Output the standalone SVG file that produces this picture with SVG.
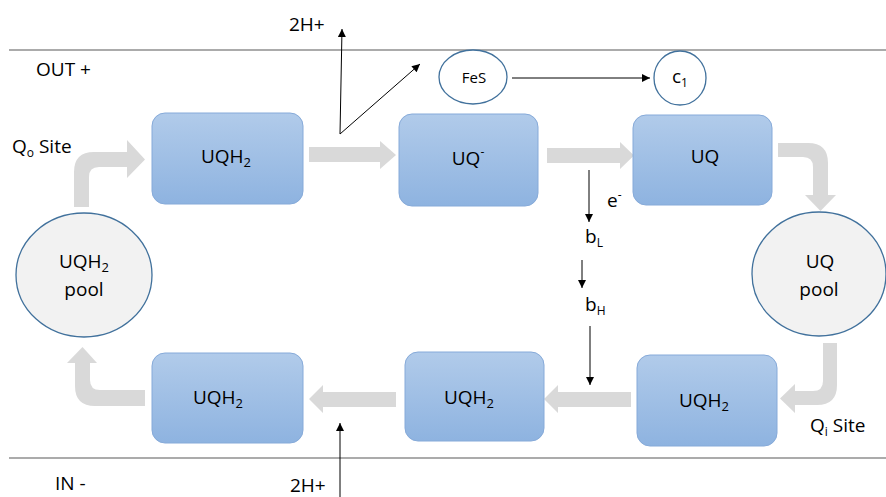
<svg xmlns="http://www.w3.org/2000/svg" width="886" height="497" viewBox="0 0 886 497">
<defs>
<linearGradient id="boxg" x1="0" y1="0" x2="0" y2="1">
<stop offset="0" stop-color="#b1cbea"/>
<stop offset="1" stop-color="#8eb3e0"/>
</linearGradient>
<marker id="ah" viewBox="0 0 10 10" refX="10" refY="5" markerWidth="9" markerHeight="8" markerUnits="userSpaceOnUse" orient="auto">
<path d="M0,0 L10,5 L0,10 Z" fill="#000"/>
</marker>
<style>
text{font-family:"Open Sans","Liberation Sans",sans-serif;fill:#000}
.lbl{font-size:19px}
.sm{font-size:15px}
.box{fill:url(#boxg);stroke:#86aad9;stroke-width:1}
.pool{fill:#f2f2f2;stroke:#41719c;stroke-width:1.3}
.cof{fill:#fff;stroke:#41719c;stroke-width:1.3}
.flow{fill:#d9d9d9;stroke:none}
.thin{stroke:#000;stroke-width:1;fill:none;marker-end:url(#ah)}
.mem{stroke:#595959;stroke-width:1.2}
</style>
</defs>
<rect width="886" height="497" fill="#fff"/>
<g id="membranes">
<line class="mem" x1="9" y1="50" x2="886" y2="50"/>
<line class="mem" x1="9" y1="458" x2="886" y2="458"/>
<text class="lbl" x="36" y="76">OUT +</text>
<text class="lbl" x="55" y="490">IN -</text>
<text class="lbl" x="12" y="153">Q<tspan font-size="12" dy="4">o</tspan><tspan dy="-4"> Site</tspan></text>
<text class="lbl" x="810" y="432">Q<tspan font-size="12" dy="4">i</tspan><tspan dy="-4"> Site</tspan></text>
</g>
<g id="connectors">
<path class="flow" d="M74,207 V172 Q74,152 94,152 H127 V140 L145,159.5 L127,178 V167 H99 Q89,167 89,177 V207 Z"/>
<path class="flow" d="M309,147 H380 V141 L396,155 L380,169 V162 H309 Z"/>
<path class="flow" d="M547,148 H620 V142 L634,155.5 L620,169 V163 H547 Z"/>
<path class="flow" d="M778,143 H808 Q828,143 828,163 V195 H836 L820.5,211 L805,195 H813 V167 Q813,157 803,157 H778 Z"/>
<path class="flow" d="M823,343 V381 Q823,391 813,391 H795 V384 L780,398.5 L795,413 V405 H817 Q837,405 837,385 V343 Z"/>
<path class="flow" d="M631,392 H558 V385 L544,399 L558,413 V407 H631 Z"/>
<path class="flow" d="M396,392 H323 V385 L309,399 L323,413 V407 H396 Z"/>
<path class="flow" d="M145,390 H100 Q90,390 90,380 V363 H97 L82.5,347 L67,363 H75 V386 Q75,406 95,406 H145 Z"/>
<line class="thin" x1="340" y1="134" x2="342" y2="29"/>
<line class="thin" x1="340" y1="134" x2="420" y2="64"/>
<line class="thin" x1="512" y1="78" x2="650" y2="78"/>
<line class="thin" x1="589" y1="170" x2="589" y2="222"/>
<line class="thin" x1="582" y1="260" x2="582" y2="288"/>
<line class="thin" x1="590" y1="326" x2="590" y2="385"/>
<line class="thin" x1="340" y1="497" x2="340" y2="423"/>
<text class="lbl" x="289" y="31">2H+</text>
<text class="lbl" x="290" y="492">2H+</text>
<text class="lbl" x="607" y="207">e<tspan font-size="12" dy="-8">-</tspan></text>
<text class="lbl" x="585" y="243">b<tspan font-size="12" dy="4">L</tspan></text>
<text class="lbl" x="585" y="311">b<tspan font-size="12" dy="4">H</tspan></text>
</g>
<g id="uqh2-pool">
<ellipse class="pool" cx="84" cy="275" rx="68" ry="62"/>
<text class="lbl" x="84" y="268" text-anchor="middle">UQH<tspan font-size="13" dy="4">2</tspan></text>
<text class="lbl" x="84" y="296" text-anchor="middle">pool</text>
</g>
<g id="uqh2-qo">
<rect class="box" x="152" y="113" width="151" height="91" rx="13"/>
<text class="lbl" x="226" y="163" text-anchor="middle">UQH<tspan font-size="13" dy="4">2</tspan></text>
</g>
<g id="uq-minus">
<rect class="box" x="399" y="114" width="139" height="92" rx="13"/>
<text class="lbl" x="468" y="165" text-anchor="middle">UQ<tspan font-size="12" dy="-9">-</tspan></text>
</g>
<g id="uq">
<rect class="box" x="633" y="115" width="139" height="90" rx="13"/>
<text class="lbl" x="705" y="163" text-anchor="middle">UQ</text>
</g>
<g id="fes">
<ellipse class="cof" cx="473" cy="77" rx="34" ry="27"/>
<text class="sm" x="474" y="83" text-anchor="middle">FeS</text>
</g>
<g id="c1">
<ellipse class="cof" cx="680" cy="78" rx="26" ry="27"/>
<text class="lbl" x="680" y="83" text-anchor="middle">c<tspan font-size="12" dy="4">1</tspan></text>
</g>
<g id="uq-pool">
<ellipse class="pool" cx="819" cy="274" rx="67" ry="62"/>
<text class="lbl" x="820" y="268" text-anchor="middle">UQ</text>
<text class="lbl" x="819" y="296" text-anchor="middle">pool</text>
</g>
<g id="uqh2-qi">
<rect class="box" x="637" y="355" width="140" height="91" rx="13"/>
<text class="lbl" x="704" y="407" text-anchor="middle">UQH<tspan font-size="13" dy="4">2</tspan></text>
</g>
<g id="uqh2-mid">
<rect class="box" x="405" y="352" width="139" height="89" rx="13"/>
<text class="lbl" x="469" y="404" text-anchor="middle">UQH<tspan font-size="13" dy="4">2</tspan></text>
</g>
<g id="uqh2-bottom">
<rect class="box" x="152" y="353" width="151" height="90" rx="13"/>
<text class="lbl" x="218" y="404" text-anchor="middle">UQH<tspan font-size="13" dy="4">2</tspan></text>
</g>
</svg>
